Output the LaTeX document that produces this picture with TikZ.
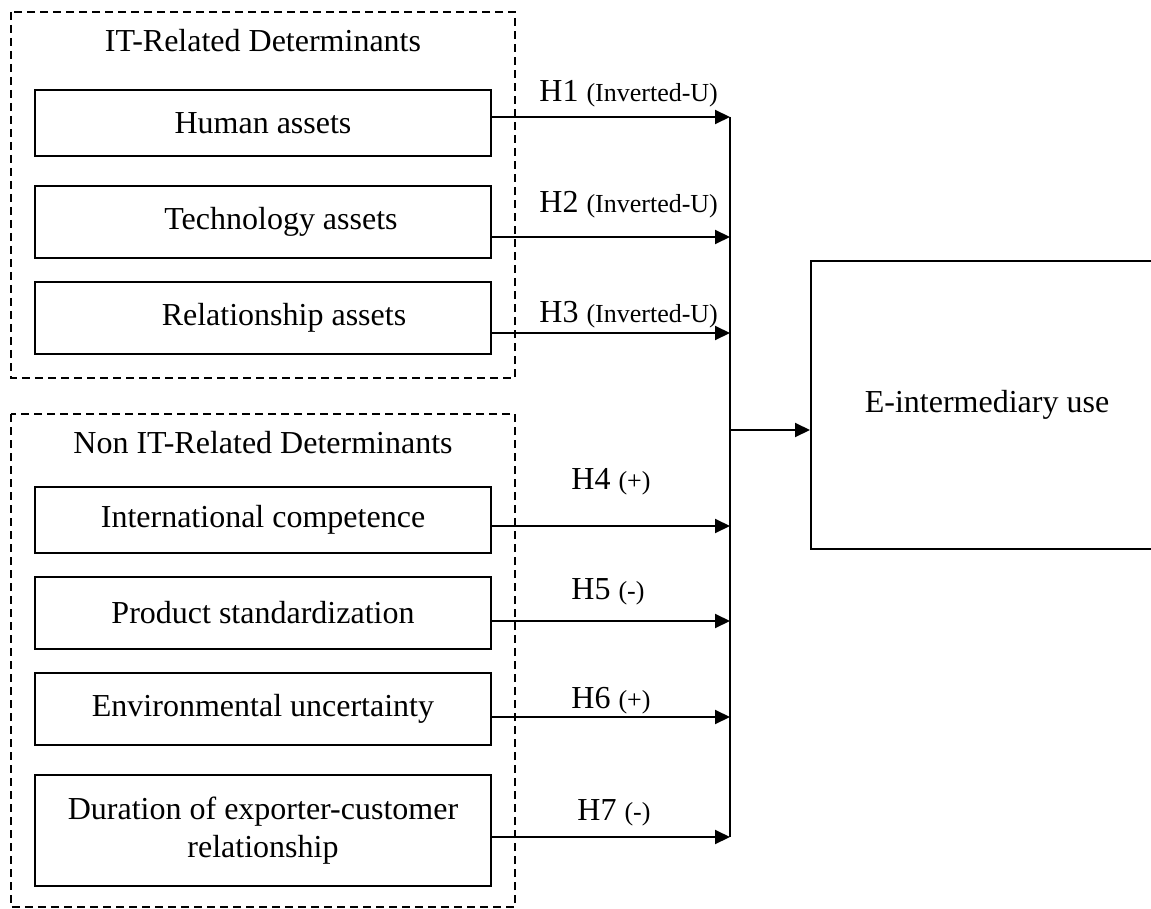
\documentclass[tikz,border=0pt]{standalone}
\usepackage{fontspec}
\setmainfont{Liberation Serif}
\usetikzlibrary{arrows.meta,positioning}

\newcommand\hsmall{\fontsize{13}{15}\selectfont}

\begin{document}
\begin{tikzpicture}[x=0.5pt,y=-0.5pt,
  box/.style={draw,line width=1pt,minimum width=228pt,inner sep=0pt,align=center,font=\fontsize{16}{19}\selectfont},
  grp/.style={draw,line width=0.75pt,dash pattern=on 4pt off 2.5pt},
  arr/.style={line width=1pt,-{Triangle[length=7.5pt,width=7pt]}},
  hlab/.style={inner sep=0pt,anchor=base west,font=\fontsize{16}{19}\selectfont},
  ttl/.style={inner sep=0pt,anchor=base,font=\fontsize{16}{19}\selectfont}]
  \clip (0,0) rectangle (1151,909);

  % IT-related group
  \draw[grp] (11,12) rectangle (515,378);
  \node[ttl] (itt) at (263,52) {IT-Related Determinants};
  \node[box,minimum height=33pt] (hum) at (263,123) {Human assets};
  \node[box,minimum height=36pt] (tech) at (263,222) {\hspace*{18pt}Technology assets};
  \node[box,minimum height=36pt] (rel) at (263,318) {\hspace*{21pt}Relationship assets};

  % Non IT-related group
  \draw[grp] (11,414) rectangle (515,907);
  \node[ttl] (nitt) at (263,453) {Non IT-Related Determinants};
  \node[box,minimum height=33pt] (intl) at (263,520) {International competence};
  \node[box,minimum height=36pt] (prod) at (263,613) {Product standardization};
  \node[box,minimum height=36pt] (env) at (263,709) {Environmental uncertainty};
  \node[box,minimum height=55.5pt] (dur) at (263,830.5) {Duration of exporter-customer\\relationship};

  % outcome
  \node[draw,line width=1pt,minimum width=176pt,minimum height=144pt,font=\fontsize{16}{19}\selectfont] (eiu) at (987,405) {E-intermediary use};

  % bus
  \coordinate (j1) at (730,117);
  \coordinate (j2) at (730,237);
  \coordinate (j3) at (730,333);
  \coordinate (j4) at (730,526);
  \coordinate (j5) at (730,621);
  \coordinate (j6) at (730,717);
  \coordinate (j7) at (730,837);
  \coordinate (jo) at (730,430);

  \draw[arr] (hum.east |- j1) -- (j1);
  \draw[arr] (tech.east |- j2) -- (j2);
  \draw[arr] (rel.east |- j3) -- (j3);
  \draw[arr] (intl.east |- j4) -- (j4);
  \draw[arr] (prod.east |- j5) -- (j5);
  \draw[arr] (env.east |- j6) -- (j6);
  \draw[arr] (dur.east |- j7) -- (j7);
  \draw[line width=1pt] (j1) -- (j7);
  \draw[arr] (jo) -- (eiu.west |- jo);

  % hypotheses
  \node[hlab] (h1) at (539,102) {H1 {\hsmall(Inverted-U)}};
  \node[hlab] (h2) at (539,213) {H2 {\hsmall(Inverted-U)}};
  \node[hlab] (h3) at (539,322) {H3 {\hsmall(Inverted-U)}};
  \node[hlab] (h4) at (571,489) {H4 {\hsmall(+)}};
  \node[hlab] (h5) at (571,599) {H5 {\hsmall(-)}};
  \node[hlab] (h6) at (571,708) {H6 {\hsmall(+)}};
  \node[hlab] (h7) at (577,820) {H7 {\hsmall(-)}};
\end{tikzpicture}
\end{document}
